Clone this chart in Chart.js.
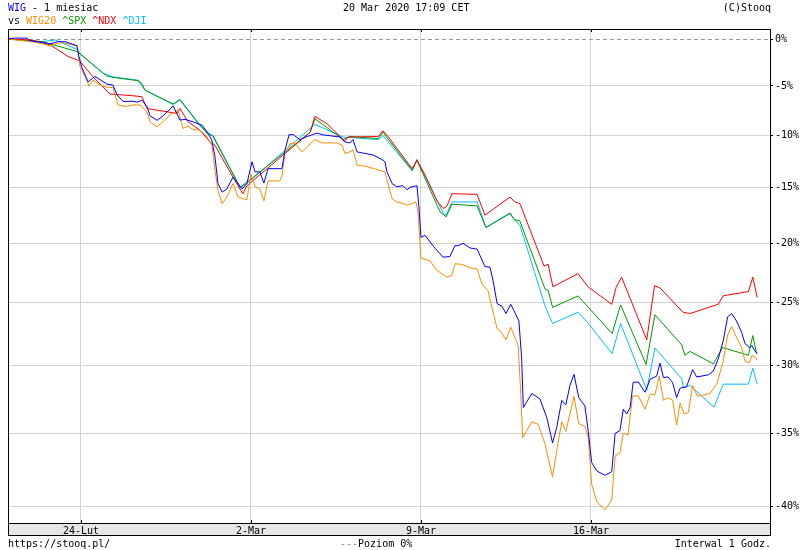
<!DOCTYPE html>
<html>
<head>
<meta charset="utf-8">
<script src="https://cdn.jsdelivr.net/npm/chart.js"></script>
<style>
  body { margin: 0; background: #fff; }
  canvas { display: block; }
</style>
</head>
<body>
<canvas id="chart" width="800" height="550"></canvas>
<script>
// [trading day since 24-Lut, % change]
const wig = [[-2.15,0],[-1.94,0.1],[-1.59,0.1],[-1.50,-0.18],[-1.12,-0.4],[-0.91,-0.53],[-0.68,-0.29],[-0.47,-0.29],[-0.12,-0.72],[-0.06,-1.9],
  [0.03,-3.1],[0.21,-4.56],[0.41,-4.0],[0.76,-4.8],[0.94,-4.9],[1.06,-5.93],[1.24,-6.6],[1.50,-6.56],[1.65,-6.66],[1.79,-6.46],
  [1.94,-7.1],[2.03,-8.05],[2.24,-8.5],[2.41,-8.06],[2.71,-7.05],[2.91,-8.47],[3.06,-8.4],[3.29,-8.64],[3.56,-8.98],[3.74,-9.8],
  [3.85,-10.47],[3.94,-12.07],[4.03,-14.6],[4.15,-15.4],[4.29,-15.1],[4.47,-14.0],[4.74,-15.1],[4.88,-14.6],[5.03,-12.55],[5.12,-13.5],
  [5.26,-13.5],[5.38,-14.56],[5.50,-13.2],[5.91,-13.2],[6.00,-11.43],[6.12,-9.92],[6.24,-9.92],[6.44,-10.4],[6.65,-10.1],[6.94,-9.76],
  [7.09,-9.92],[7.62,-10.15],[7.76,-10.63],[7.91,-10.73],[8.00,-10.4],[8.12,-11.6],[8.29,-11.7],[8.59,-11.9],[8.85,-12.32],[8.94,-12.55],
  [9.00,-13.5],[9.15,-14.6],[9.29,-14.9],[9.47,-14.8],[9.59,-15.18],[9.68,-14.95],[9.88,-14.8],[9.94,-16.76],[10.00,-19.47],[10.12,-19.3],
  [10.35,-20.2],[10.65,-21.2],[10.85,-21.14],[11.00,-20.2],[11.09,-20.2],[11.24,-20.0],[11.44,-20.4],[11.65,-20.5],[11.88,-22.0],[12.03,-22.05],
  [12.12,-23.2],[12.24,-25.1],[12.38,-25.3],[12.50,-25.9],[12.64,-25.15],[12.81,-26.1],[12.88,-26.5],[12.96,-29.4],[13.01,-33.13],[13.26,-32.1],
  [13.50,-32.5],[13.70,-33.87],[13.87,-35.66],[13.99,-34.6],[14.14,-32.6],[14.26,-32.93],[14.38,-31.5],[14.50,-30.66],[14.64,-32.4],[14.82,-33.0],
  [14.92,-34.85],[15.02,-37.03],[15.17,-37.6],[15.41,-37.9],[15.61,-37.65],[15.71,-34.98],[15.85,-34.8],[15.95,-33.25],[16.05,-33.6],[16.15,-33.13],
  [16.24,-31.28],[16.39,-31.23],[16.59,-32.0],[16.74,-31.03],[16.93,-30.8],[17.03,-29.8],[17.13,-30.9],[17.27,-30.86],[17.40,-31.28],[17.52,-32.4],
  [17.62,-31.7],[17.81,-31.6],[17.99,-30.3],[18.11,-30.86],[18.45,-30.7],[18.60,-30.4],[18.74,-29.5],[18.89,-28.06],[19.02,-26.16],[19.14,-25.9],
  [19.28,-26.5],[19.43,-27.4],[19.53,-28.3],[19.66,-28.6],[19.74,-28.46],[19.82,-28.86],[19.89,-29.07]];

const wig20 = [[-2.15,0],[-1.41,-0.32],[-1.12,-0.53],[-0.91,-0.75],[-0.68,-0.46],[-0.53,-0.4],[-0.12,-0.75],[-0.03,-2.96],[0.12,-4.03],[0.24,-5.0],
  [0.35,-4.4],[0.56,-4.9],[0.79,-5.15],[0.94,-5.15],[1.09,-6.95],[1.29,-7.1],[1.53,-6.95],[1.74,-6.95],[1.94,-7.63],[2.03,-8.64],
  [2.24,-9.15],[2.41,-8.64],[2.62,-7.96],[2.85,-7.45],[3.00,-9.3],[3.15,-9.08],[3.29,-9.4],[3.50,-9.48],[3.71,-10.15],[3.85,-10.95],
  [3.94,-13.35],[4.03,-15.24],[4.15,-16.45],[4.29,-15.85],[4.47,-14.6],[4.62,-15.85],[4.88,-16.1],[5.00,-13.7],[5.12,-14.9],[5.26,-15.1],
  [5.38,-16.2],[5.50,-14.35],[5.85,-14.35],[5.91,-13.9],[6.00,-11.75],[6.15,-10.8],[6.29,-10.73],[6.50,-11.6],[6.65,-11.1],[6.88,-10.4],
  [7.09,-10.73],[7.53,-10.73],[7.68,-10.95],[7.76,-11.75],[7.91,-11.6],[8.00,-11.36],[8.12,-12.86],[8.35,-12.96],[8.59,-13.18],[8.94,-13.5],
  [9.00,-14.28],[9.15,-16.0],[9.29,-16.3],[9.47,-16.43],[9.59,-16.6],[9.74,-16.43],[9.85,-16.3],[9.91,-17.2],[10.00,-21.3],[10.26,-21.5],
  [10.47,-22.33],[10.76,-22.9],[10.91,-22.75],[11.00,-21.76],[11.21,-21.82],[11.44,-22.1],[11.65,-22.2],[11.79,-23.46],[11.97,-24.03],[12.24,-27.13],
  [12.32,-27.27],[12.50,-28.0],[12.64,-27.0],[12.86,-28.46],[12.93,-31.9],[12.99,-35.3],[13.26,-34.16],[13.45,-34.35],[13.65,-35.77],[13.87,-38.0],
  [13.99,-36.23],[14.14,-34.16],[14.26,-34.85],[14.38,-33.6],[14.50,-32.3],[14.64,-34.3],[14.82,-34.48],[14.92,-35.3],[15.02,-38.5],[15.17,-39.65],
  [15.41,-40.2],[15.61,-39.55],[15.71,-36.58],[15.85,-36.35],[15.95,-34.98],[16.09,-35.1],[16.22,-32.27],[16.39,-32.27],[16.59,-33.25],[16.74,-32.14],
  [16.88,-32.2],[17.01,-30.8],[17.13,-32.6],[17.27,-32.4],[17.40,-32.6],[17.52,-34.4],[17.62,-32.8],[17.74,-33.6],[17.86,-33.5],[17.99,-31.52],
  [18.13,-32.3],[18.50,-32.1],[18.70,-31.4],[18.89,-29.65],[19.02,-27.6],[19.14,-26.95],[19.28,-27.8],[19.43,-28.6],[19.53,-29.65],[19.66,-29.78],
  [19.74,-29.2],[19.82,-29.35],[19.89,-29.6]];

const ndx = [[-2.15,0],[-1.50,-0.1],[-1.12,-0.4],[-0.91,-0.64],[-0.68,-1.17],[-0.38,-1.89],[-0.12,-2.24],[-0.03,-2.42],[0.06,-2.78],[0.35,-4.03],
  [0.85,-5.83],[1.50,-6.0],[1.79,-6.1],[1.94,-7.3],[2.82,-7.8],[2.91,-7.3],[3.15,-8.64],[3.50,-9.48],[3.79,-10.63],[3.94,-10.95],
  [4.47,-14.0],[4.76,-15.54],[4.88,-14.8],[6.74,-9.68],[6.88,-8.1],[7.24,-8.85],[7.76,-10.55],[7.85,-10.15],[8.74,-10.1],[8.88,-9.55],
  [9.03,-10.1],[9.74,-13.2],[9.88,-12.4],[10.12,-13.8],[10.47,-16.2],[10.65,-16.9],[10.76,-16.7],[10.91,-15.54],[11.65,-15.6],[11.88,-17.5],
  [12.62,-15.85],[12.76,-16.3],[12.91,-16.45],[13.62,-21.97],[13.74,-21.8],[13.88,-23.7],[14.62,-22.6],[14.91,-23.7],[15.61,-25.15],[15.74,-23.75],
  [15.90,-22.9],[16.64,-28.0],[16.87,-23.6],[17.03,-23.8],[17.71,-25.8],[17.91,-25.9],[18.74,-25.15],[18.89,-24.45],[19.63,-24.1],[19.76,-22.9],
  [19.89,-24.6]];

const spx = [[-2.15,0],[-1.12,-0.29],[-0.91,-0.53],[-0.12,-1.35],[-0.03,-1.6],[0.65,-3.66],[0.76,-3.95],[0.94,-4.1],[1.68,-4.45],[1.79,-4.73],
  [1.88,-5.43],[2.71,-6.85],[2.91,-6.38],[3.50,-8.98],[3.74,-9.89],[3.88,-10.0],[4.68,-14.94],[4.88,-14.47],[6.74,-9.68],[6.88,-8.33],
  [7.71,-10.4],[7.91,-10.1],[8.74,-10.3],[8.88,-9.68],[9.74,-13.35],[9.88,-12.4],[10.56,-17.2],[10.74,-17.65],[10.91,-16.5],[11.65,-16.66],
  [11.91,-18.6],[12.62,-17.3],[12.74,-17.9],[12.91,-18.02],[13.65,-23.9],[13.74,-24.0],[13.87,-25.4],[14.62,-24.46],[14.89,-25.3],[15.62,-27.5],
  [15.87,-25.2],[16.62,-29.9],[16.88,-26.0],[17.67,-28.4],[17.76,-29.2],[17.91,-28.9],[18.60,-29.86],[18.87,-28.6],[19.63,-29.2],[19.76,-27.66],
  [19.87,-29.08]];

const dji = [[-2.15,0],[-1.12,-0.29],[-0.76,-0.1],[-0.09,-1.17],[-0.03,-1.6],[0.65,-3.66],[0.94,-4.05],[1.68,-4.4],[1.88,-5.43],[2.71,-6.9],
  [2.91,-6.45],[3.50,-9.03],[3.88,-10.1],[4.68,-15.0],[4.88,-14.6],[6.88,-8.9],[7.71,-10.15],[8.74,-10.4],[8.88,-10.0],[9.74,-13.4],
  [9.88,-12.3],[10.65,-17.3],[10.74,-17.5],[10.91,-16.3],[11.65,-16.3],[11.91,-18.6],[12.62,-17.36],[12.76,-17.96],[12.91,-18.4],[13.65,-25.3],
  [13.87,-26.7],[14.62,-25.8],[14.89,-26.6],[15.62,-29.07],[15.87,-26.7],[16.64,-31.85],[16.88,-28.64],[17.67,-31.0],[17.71,-31.65],[17.91,-31.5],
  [18.62,-33.1],[18.89,-31.4],[19.63,-31.4],[19.76,-30.2],[19.89,-31.4]];

const xTickDays = [0, 5, 10, 15];
const xTickLabels = ['24-Lut', '2-Mar', '9-Mar', '16-Mar'];
const yTickPct = [0, -5, -10, -15, -20, -25, -30, -35, -40];

const FONT = '"DejaVu Sans Mono", monospace';
const ratio = (p) => Math.log(1 + p / 100);   // log scale of price ratio
const toPoints = (arr) => arr.map(([d, p]) => ({ x: d, y: ratio(p) }));

const line = (label, arr, color) => ({
  label, data: toPoints(arr), borderColor: color, borderWidth: 1,
  pointRadius: 0, tension: 0, fill: false,
});

function drawRuns(ctx, x, y, runs) {
  runs.forEach(([txt, col]) => {
    ctx.fillStyle = col;
    ctx.fillText(txt, x, y);
    x += ctx.measureText(txt).width;
  });
}

const stooqFrame = {
  id: 'stooqFrame',
  beforeDraw(chart) {
    const { ctx, chartArea: a } = chart;
    ctx.save();
    ctx.fillStyle = '#fff';
    ctx.fillRect(0, 0, chart.width, chart.height);
    ctx.fillStyle = '#e6e6e6';
    ctx.fillRect(a.left, a.bottom, a.right - a.left, 12);
    ctx.restore();
  },
  beforeDatasetsDraw(chart) {
    const { ctx, chartArea: a, scales } = chart;
    const y0 = Math.round(scales.y.getPixelForValue(0)) + 0.5;
    ctx.save();
    ctx.strokeStyle = '#999';
    ctx.lineWidth = 1;
    ctx.setLineDash([4, 3]);
    ctx.beginPath();
    ctx.moveTo(a.left, y0);
    ctx.lineTo(a.right, y0);
    ctx.stroke();
    ctx.restore();
  },
  afterDraw(chart) {
    const { ctx, chartArea: a, scales } = chart;
    ctx.save();
    ctx.strokeStyle = '#000';
    ctx.lineWidth = 1;
    ctx.strokeRect(a.left + 0.5, a.top + 0.5, a.right - a.left, a.bottom + 12 - a.top);
    ctx.beginPath();
    ctx.moveTo(a.left, a.bottom + 0.5);
    ctx.lineTo(a.right, a.bottom + 0.5);
    xTickDays.forEach((d) => {
      const x = Math.round(scales.x.getPixelForValue(d)) + 0.5;
      ctx.moveTo(x, a.top); ctx.lineTo(x, a.top + 3);
      ctx.moveTo(x, a.bottom - 3); ctx.lineTo(x, a.bottom);
    });
    ctx.stroke();

    ctx.font = '10px ' + FONT;
    ctx.textBaseline = 'alphabetic';
    ctx.textAlign = 'left';
    drawRuns(ctx, 8, 11, [['WIG', '#0000ff'], [' - 1 miesiac', '#000']]);
    drawRuns(ctx, 8, 24, [['vs ', '#000'], ['WIG20', '#ff8c00'], [' ', '#000'], ['^SPX', '#009a00'],
      [' ', '#000'], ['^NDX', '#ff0000'], [' ', '#000'], ['^DJI', '#00bfff']]);
    ctx.fillStyle = '#000';
    ctx.fillText('20 Mar 2020 17:09 CET', 343, 11);
    ctx.fillText('https://stooq.pl/', 8, 547);
    drawRuns(ctx, 340, 547, [['---', '#888'], ['Poziom 0%', '#000']]);
    ctx.textAlign = 'right';
    ctx.fillText('(C)Stooq', 771, 11);
    ctx.fillText('Interwal 1 Godz.', 771, 547);
    ctx.restore();
  }
};

new Chart(document.getElementById('chart'), {
  type: 'line',
  data: {
    datasets: [
      line('WIG', wig, '#0000ff'),
      line('WIG20', wig20, '#ff8c00'),
      line('^NDX', ndx, '#ff0000'),
      line('^SPX', spx, '#009a00'),
      line('^DJI', dji, '#00bfff'),
    ],
  },
  options: {
    responsive: false,
    animation: false,
    events: [],
    layout: { padding: { top: 29, left: 8, right: 0, bottom: 15 } },
    plugins: { legend: { display: false }, tooltip: { enabled: false }, title: { display: false } },
    scales: {
      x: {
        type: 'linear',
        min: -2.147,
        max: 20.265,
        afterFit: (s) => { s.height = 12; },
        afterBuildTicks: (s) => { s.ticks = xTickDays.map((v) => ({ value: v })); },
        grid: { color: '#d3d3d3', drawTicks: false },
        border: { display: false },
        ticks: {
          autoSkip: false, maxRotation: 0, padding: 2, color: '#000',
          font: { family: FONT, size: 10 },
          callback: (v) => xTickLabels[xTickDays.indexOf(v)],
        },
      },
      y: {
        type: 'linear',
        position: 'right',
        min: ratio(-41.05),
        max: ratio(1.1),
        afterFit: (s) => { s.width = 30; },
        afterBuildTicks: (s) => { s.ticks = yTickPct.map((p) => ({ value: ratio(p) })); },
        grid: {
          color: (c) => (c.tick && Math.abs(c.tick.value) < 1e-9 ? 'rgba(0,0,0,0)' : '#d3d3d3'),
          tickColor: '#000', tickLength: 3,
        },
        border: { display: true, color: '#000' },
        ticks: {
          padding: 2, color: '#000',
          font: { family: FONT, size: 10 },
          callback: (v) => Math.round((Math.exp(v) - 1) * 100) + '%',
        },
      },
    },
  },
  plugins: [stooqFrame],
});
</script>
</body>
</html>
